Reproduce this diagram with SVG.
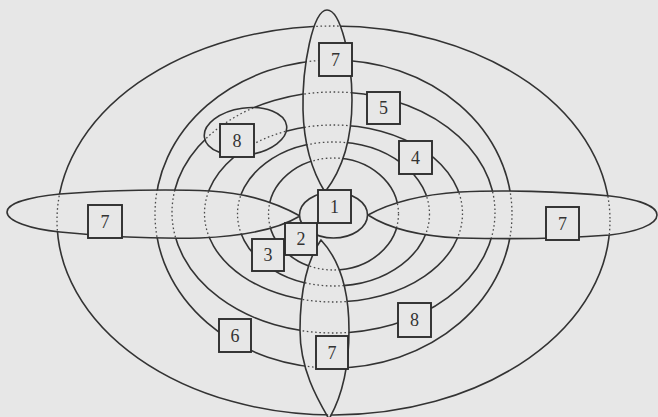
<svg xmlns="http://www.w3.org/2000/svg" xmlns:xlink="http://www.w3.org/1999/xlink" width="658" height="417" viewBox="0 0 658 417">
<style>
.ln{fill:none;stroke:#333;stroke-width:1.6}
.dt{fill:none;stroke:#4a4a4a;stroke-width:1.3;stroke-dasharray:1.6 2.6}
.bx{fill:#e7e7e7;stroke:#2e2e2e;stroke-width:1.9}
.lb{font-family:"Liberation Serif","Times New Roman",serif;font-size:18px;fill:#333;text-anchor:middle}
</style>
<defs>
<path id="pT" d="M325,192 C315,176 304,150 303,110 C302,66 313,10 327,10 C341,10 352,60 352,100 C352,140 342,170 325,192 Z"/>
<path id="pB" d="M321,240 C336,256 349,282 349,330 C349,370 340,400 329,419 C318,400 300,370 300,330 C300,290 308,258 321,240 Z"/>
<path id="pL" d="M300,216 C280,205 250,193 210,191 C170,189 110,190 60,194 C30,197 7,203 7,212 C7,221 30,229 60,232 C100,236 150,239 200,238 C250,236 280,228 300,216 Z"/>
<path id="pR" d="M368,215 C388,204 415,195 460,192 C500,190 560,191 610,196 C635,199 657,205 657,215 C657,225 635,232 610,235 C560,239 500,239 460,238 C415,236 388,228 368,215 Z"/>
<ellipse id="se" cx="245.5" cy="131.5" rx="41.5" ry="23.5" transform="rotate(-8 245.5 131.5)"/>
<g id="rings">
<ellipse cx="333.5" cy="220.5" rx="276.5" ry="194.5"/>
<ellipse cx="333.5" cy="214" rx="178.5" ry="154"/>
<ellipse cx="333.5" cy="212.5" rx="161.5" ry="120.5"/>
<ellipse cx="333.5" cy="213.5" rx="129" ry="88.5"/>
<ellipse cx="333.5" cy="214" rx="96" ry="72"/>
<ellipse cx="333.5" cy="214" rx="65" ry="56"/>
</g>
<mask id="outside" maskUnits="userSpaceOnUse" x="0" y="0" width="658" height="417">
<rect x="0" y="0" width="658" height="417" fill="white"/>
<use xlink:href="#pT" fill="black"/>
<use xlink:href="#pB" fill="black"/>
<use xlink:href="#pL" fill="black"/>
<use xlink:href="#pR" fill="black"/>
<use xlink:href="#se" fill="black"/>
</mask>
<clipPath id="inside">
<use xlink:href="#pT"/>
<use xlink:href="#pB"/>
<use xlink:href="#pL"/>
<use xlink:href="#pR"/>
<use xlink:href="#se"/>
</clipPath>
</defs>
<rect x="0" y="0" width="658" height="417" fill="#e7e7e7"/>
<g id="connectors">
<use xlink:href="#rings" class="ln" mask="url(#outside)"/>
<use xlink:href="#rings" class="dt" clip-path="url(#inside)"/>
</g>
<g id="petals">
<use xlink:href="#pT" class="ln"/>
<use xlink:href="#pB" class="ln"/>
<use xlink:href="#pL" class="ln"/>
<use xlink:href="#pR" class="ln"/>
<use xlink:href="#se" class="ln"/>
</g>
<g id="core">
<ellipse cx="333.5" cy="215" rx="34" ry="23" fill="#e7e7e7" stroke="#333" stroke-width="1.6"/>
</g>
<g id="n1"><rect class="bx" x="318" y="190" width="33" height="33"/><text class="lb" x="334.5" y="213">1</text></g>
<g id="n2"><rect class="bx" x="285" y="223" width="32" height="32"/><text class="lb" x="301" y="245">2</text></g>
<g id="n3"><rect class="bx" x="252" y="239" width="32" height="32"/><text class="lb" x="268" y="261">3</text></g>
<g id="n4"><rect class="bx" x="399" y="141" width="33" height="33"/><text class="lb" x="415.5" y="164">4</text></g>
<g id="n5"><rect class="bx" x="367" y="92" width="33" height="32"/><text class="lb" x="383.5" y="114">5</text></g>
<g id="n6"><rect class="bx" x="219" y="319" width="32" height="33"/><text class="lb" x="235" y="342">6</text></g>
<g id="n7top"><rect class="bx" x="319" y="43" width="33" height="33"/><text class="lb" x="335.5" y="66">7</text></g>
<g id="n7left"><rect class="bx" x="88" y="205" width="34" height="33"/><text class="lb" x="105" y="228">7</text></g>
<g id="n7right"><rect class="bx" x="546" y="207" width="33" height="33"/><text class="lb" x="562.5" y="230">7</text></g>
<g id="n7bottom"><rect class="bx" x="316" y="336" width="32" height="33"/><text class="lb" x="332" y="359">7</text></g>
<g id="n8top"><rect class="bx" x="220" y="124" width="34" height="33"/><text class="lb" x="237" y="147">8</text></g>
<g id="n8bottom"><rect class="bx" x="398" y="303" width="33" height="34"/><text class="lb" x="414.5" y="326">8</text></g>
</svg>
